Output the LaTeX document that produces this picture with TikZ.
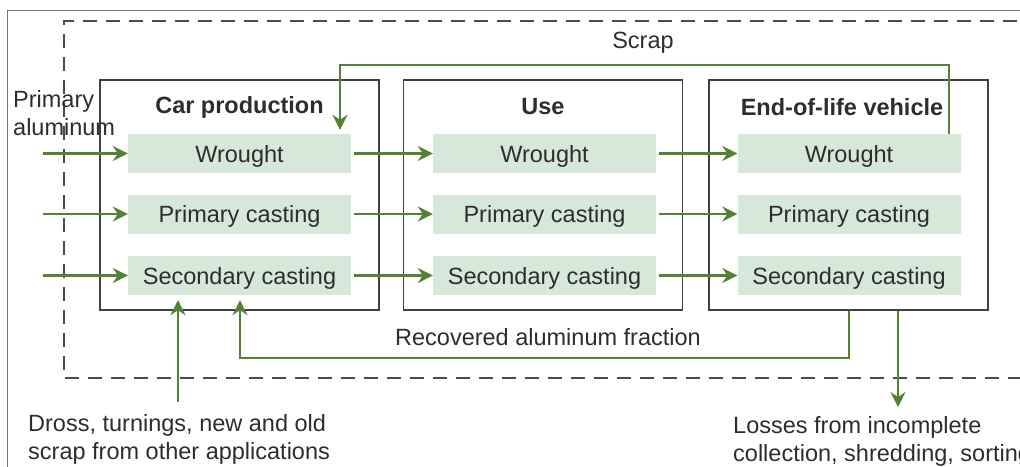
\documentclass[tikz,border=0pt]{standalone}
\usepackage{fontspec}
\setmainfont{Liberation Sans}
\usetikzlibrary{arrows.meta,calc}
\definecolor{lg}{RGB}{84,130,53}
\definecolor{fillg}{RGB}{213,232,218}
\definecolor{txt}{RGB}{45,45,45}
\begin{document}
\begin{tikzpicture}[x=1pt,y=-1pt,
  font=\fontsize{23.5}{28}\selectfont, text=txt,
  stage/.style={draw=black!75, line width=1.6pt, minimum width=279pt, minimum height=230pt, inner sep=0pt},
  item/.style={fill=fillg, minimum width=223pt, minimum height=39pt, inner sep=0pt, text height=17pt, text depth=0pt},
  flow/.style={draw=lg, line width=2.2pt, -{Stealth[length=15pt,width=15pt,inset=5pt]}},
  title/.style={font=\fontsize{23.5}{28}\selectfont\bfseries},
  frame/.style={draw=black!55, line width=1pt},
  sysbound/.style={draw=black!70, line width=2pt, dash pattern=on 14pt off 9pt},
  lbl/.style={inner sep=0pt, align=left}]
\useasboundingbox (0,0) rectangle (1020,466);
% outer frame and system boundary
\draw[frame] (7,490) |- (1040,10);
\draw[sysbound] (1040,21) -- (64,21) -- (64,378) -- (1040,378);
% stage boxes
\node[stage] (car) at (239.5,195) {};
\node[stage] (use) at (543,195) {};
\node[stage] (eol) at (848.5,195) {};
\node[title] (cart) at (239.5,107) {Car production};
\node[title] (uset) at (543,107) {Use};
\node[title] (eolt) at (842,107) {End-of-life vehicle};
% items
\node[item] (cw) at (239.5,153.5) {Wrought};
\node[item] (cp) at (239.5,214) {Primary casting};
\node[item] (cs) at (239.5,275.5) {Secondary casting};
\node[item] (uw) at (544.5,153.5) {Wrought};
\node[item] (up) at (544.5,214) {Primary casting};
\node[item] (us) at (544.5,275.5) {Secondary casting};
\node[item] (ew) at (849,153.5) {Wrought};
\node[item] (ep) at (849,214) {Primary casting};
\node[item] (es) at (849,275.5) {Secondary casting};
% inputs
\node[lbl, anchor=west] (prim) at (13,113) {Primary\\aluminum};
\coordinate (in1) at (43,153.5);
\coordinate (in2) at (43,214);
\coordinate (in3) at (43,275.5);
\draw[flow] (in1) -- (cw.west);
\draw[flow] (in2) -- (cp.west);
\draw[flow] (in3) -- (cs.west);
% stage to stage
\draw[flow, shorten <=3pt] (cw.east) -- (uw.west);
\draw[flow, shorten <=3pt] (cp.east) -- (up.west);
\draw[flow, shorten <=3pt] (cs.east) -- (us.west);
\draw[flow, shorten <=3pt] (uw.east) -- (ew.west);
\draw[flow, shorten <=3pt] (up.east) -- (ep.west);
\draw[flow, shorten <=3pt] (us.east) -- (es.west);
% scrap loop
\coordinate (sx) at (949,0);
\coordinate (sc) at (340,65);
\draw[flow, shorten >=4pt] (ew.north -| sx) |- (sc) -- (cw.north -| sc);
\node (scraplbl) at (643,43) {Scrap};
% recovered loop
\coordinate (rx) at (849,358);
\coordinate (lx) at (240,358);
\draw[flow, shorten >=5pt] (eol.south -| rx) -- (rx) -- (lx) -- (cs.south -| lx);
\node (reclbl) at (548,337) {Recovered aluminum fraction};
% dross input
\node[lbl, anchor=west] (dross) at (28,439) {Dross, turnings, new and old\\scrap from other applications};
\coordinate (dx) at (178,402);
\draw[flow, shorten >=5pt] (dx) -- (cs.south -| dx);
% losses
\coordinate (lossx) at (898,407);
\draw[flow] (eol.south -| lossx) -- (lossx);
\node[lbl, anchor=west] (loss) at (733,441) {Losses from incomplete\\collection, shredding, sorting};
\end{tikzpicture}
\end{document}
